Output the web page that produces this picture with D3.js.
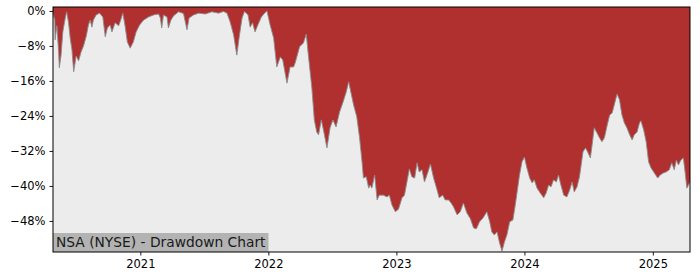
<!DOCTYPE html>
<html>
<head>
<meta charset="utf-8">
<script src="https://cdn.jsdelivr.net/npm/d3@7"></script>
<style>
  body { margin: 0; background: #fff; }
  svg { display: block; font-family: 'DejaVu Sans', sans-serif; }
</style>
</head>
<body>
<svg width="700" height="280"></svg>
<script>
const title = 'NSA (NYSE) - Drawdown Chart'

const dates = [
  '2020-04-27', '2020-05-02', '2020-05-03', '2020-05-08', '2020-05-13', '2020-05-15', '2020-05-20', '2020-05-25',
  '2020-06-01', '2020-06-05', '2020-06-10', '2020-06-15', '2020-06-20', '2020-06-25', '2020-07-02', '2020-07-09',
  '2020-07-16', '2020-07-23', '2020-07-31', '2020-08-06', '2020-08-11', '2020-08-16', '2020-08-20', '2020-08-28',
  '2020-09-07', '2020-09-16', '2020-09-23', '2020-09-29', '2020-10-07', '2020-10-12', '2020-10-21', '2020-10-31',
  '2020-11-06', '2020-11-12', '2020-11-18', '2020-11-25', '2020-12-03', '2020-12-12', '2020-12-20', '2020-12-30',
  '2021-01-10', '2021-01-24', '2021-02-08', '2021-02-22', '2021-02-27', '2021-03-03', '2021-03-08', '2021-03-18',
  '2021-03-22', '2021-03-29', '2021-04-06', '2021-04-20', '2021-05-04', '2021-05-14', '2021-05-20', '2021-06-02',
  '2021-06-16', '2021-07-05', '2021-07-24', '2021-08-12', '2021-08-26', '2021-09-05', '2021-09-14', '2021-09-24',
  '2021-10-03', '2021-10-10', '2021-10-18', '2021-10-25', '2021-11-04', '2021-11-10', '2021-11-17', '2021-11-24',
  '2021-12-02', '2021-12-12', '2021-12-21', '2021-12-28', '2022-01-06', '2022-01-16', '2022-01-25', '2022-02-04',
  '2022-02-11', '2022-02-23', '2022-03-04', '2022-03-14', '2022-03-19', '2022-03-31', '2022-04-11', '2022-04-19',
  '2022-04-25', '2022-05-05', '2022-05-12', '2022-05-19', '2022-05-24', '2022-06-01', '2022-06-07', '2022-06-17',
  '2022-06-26', '2022-07-04', '2022-07-13', '2022-07-23', '2022-08-02', '2022-08-11', '2022-08-18', '2022-08-24',
  '2022-09-01', '2022-09-10', '2022-09-18', '2022-09-25', '2022-09-29', '2022-10-07', '2022-10-14', '2022-10-18',
  '2022-10-23', '2022-10-31', '2022-11-07', '2022-11-13', '2022-11-25', '2022-12-05', '2022-12-12', '2022-12-19',
  '2022-12-29', '2023-01-07', '2023-01-17', '2023-01-24', '2023-01-31', '2023-02-07', '2023-02-14', '2023-02-22',
  '2023-03-01', '2023-03-07', '2023-03-15', '2023-03-22', '2023-04-01', '2023-04-08', '2023-04-17', '2023-04-27',
  '2023-05-03', '2023-05-13', '2023-05-20', '2023-05-30', '2023-06-06', '2023-06-13', '2023-06-23', '2023-07-02',
  '2023-07-11', '2023-07-21', '2023-07-31', '2023-08-09', '2023-08-17', '2023-08-26', '2023-09-05', '2023-09-16',
  '2023-09-24', '2023-09-30', '2023-10-07', '2023-10-15', '2023-10-22', '2023-10-29', '2023-11-05', '2023-11-12',
  '2023-11-20', '2023-11-29', '2023-12-06', '2023-12-12', '2023-12-18', '2023-12-25', '2024-01-01', '2024-01-08',
  '2024-01-16', '2024-01-23', '2024-01-29', '2024-02-06', '2024-02-15', '2024-02-25', '2024-03-03', '2024-03-10',
  '2024-03-17', '2024-03-24', '2024-04-01', '2024-04-07', '2024-04-14', '2024-04-22', '2024-05-01', '2024-05-09',
  '2024-05-16', '2024-05-22', '2024-05-30', '2024-06-06', '2024-06-16', '2024-06-23', '2024-06-29', '2024-07-07',
  '2024-07-12', '2024-07-18', '2024-07-26', '2024-08-02', '2024-08-09', '2024-08-16', '2024-08-24', '2024-08-31',
  '2024-09-07', '2024-09-13', '2024-09-21', '2024-09-28', '2024-10-05', '2024-10-12', '2024-10-19', '2024-10-27',
  '2024-11-03', '2024-11-09', '2024-11-17', '2024-11-24', '2024-11-28', '2024-12-06', '2024-12-13', '2024-12-20',
  '2024-12-27', '2025-01-05', '2025-01-15', '2025-01-22', '2025-02-01', '2025-02-08', '2025-02-17', '2025-02-24',
  '2025-03-03', '2025-03-09', '2025-03-15', '2025-03-22', '2025-03-29', '2025-04-03', '2025-04-08', '2025-04-17'
]

// drawdown in percent
const drawdown = [
  -0.5, -2.1, -6.6, -3.4, -9.4, -13.0, -10.1, -4.8,
  -1.6, -0.2, -2.5, -6.2, -8.9, -13.9, -10.3, -11.4,
  -9.4, -8.0, -5.7, -3.2, -2.1, -3.7, -2.1, -0.9,
  -0.5, -1.4, -5.9, -3.9, -3.2, -4.8, -2.7, -3.4,
  -2.1, -0.5, -3.2, -7.1, -8.5, -7.1, -4.8, -3.2,
  -2.1, -1.4, -0.9, -0.7, -1.6, -3.9, -0.9, -1.4,
  -3.9, -2.1, -1.1, -0.2, -0.6, -4.3, -1.6, -0.9,
  -0.5, -0.7, -0.2, -0.5, -0.1, -0.5, -2.5, -5.5,
  -10.1, -5.9, -1.6, -0.1, -0.9, -3.7, -2.7, -4.8,
  -3.2, -1.4, -0.5, 0.0, -3.2, -6.2, -12.8, -10.5,
  -11.2, -16.5, -12.8, -12.8, -11.7, -8.2, -7.3, -5.3,
  -10.1, -17.6, -24.9, -27.7, -28.3, -24.9, -27.2, -31.3,
  -26.7, -24.9, -26.5, -23.1, -20.8, -18.5, -16.2, -18.5,
  -21.5, -24.2, -29.0, -34.5, -38.2, -37.9, -40.5, -39.8,
  -40.5, -37.5, -43.2, -42.1, -42.1, -42.5, -42.1, -44.3,
  -45.9, -45.3, -42.7, -42.1, -39.1, -36.1, -37.9, -38.2,
  -34.7, -36.8, -36.3, -39.1, -36.8, -35.0, -38.2, -40.9,
  -42.7, -42.1, -43.2, -43.2, -43.9, -44.8, -46.6, -45.9,
  -43.9, -46.2, -47.5, -49.6, -49.8, -48.2, -47.3, -45.9,
  -48.2, -50.5, -51.2, -50.5, -53.0, -54.9, -52.8, -51.2,
  -48.2, -47.8, -44.3, -40.9, -37.5, -34.5, -33.4, -35.9,
  -38.2, -39.3, -38.6, -40.5, -41.6, -42.7, -41.6, -39.8,
  -40.2, -38.6, -39.1, -37.5, -39.8, -42.1, -42.5, -40.9,
  -39.1, -41.4, -40.2, -37.9, -32.2, -31.3, -32.2, -33.6,
  -30.6, -26.7, -27.9, -29.0, -29.9, -29.0, -26.1, -23.8,
  -23.3, -21.5, -19.0, -20.3, -23.8, -25.6, -26.7, -28.3,
  -29.5, -28.3, -27.7, -25.6, -25.1, -27.2, -29.9, -34.5,
  -35.9, -37.0, -38.2, -37.5, -37.0, -36.8, -36.3, -34.7,
  -36.3, -34.1, -35.2, -34.1, -33.6, -36.8, -40.5, -39.1
]

const yTicks = [0, -8, -16, -24, -32, -40, -48]
const xTickYears = [2021, 2022, 2023, 2024, 2025]

const width = 700
const height = 280
const margin = { top: 7, right: 10, bottom: 28, left: 53 }

const parse = d3.utcParse('%Y-%m-%d')
const data = dates.map((d, i) => ({ date: parse(d), value: drawdown[i] }))

const svg = d3.select('svg')

const x = d3
  .scaleUtc()
  .domain(d3.extent(data, d => d.date))
  .range([margin.left, width - margin.right])

const y = d3
  .scaleLinear()
  .domain([-55.1, 0.9])
  .range([height - margin.bottom, margin.top])

const plotW = width - margin.left - margin.right
const plotH = height - margin.top - margin.bottom

// red background = area above the drawdown curve
svg
  .append('rect')
  .attr('x', margin.left)
  .attr('y', margin.top)
  .attr('width', plotW)
  .attr('height', plotH)
  .attr('fill', '#b03030')

const area = d3
  .area()
  .x(d => x(d.date))
  .y0(y(y.domain()[0]))
  .y1(d => y(d.value))

svg.append('path').datum(data).attr('d', area).attr('fill', '#ececec')

const line = d3
  .line()
  .x(d => x(d.date))
  .y(d => y(d.value))

svg
  .append('path')
  .datum(data)
  .attr('d', line)
  .attr('fill', 'none')
  .attr('stroke', '#8c8c8c')
  .attr('stroke-width', 0.9)

// title box, bottom-left inside the plot
const titleG = svg.append('g')
const titleText = titleG
  .append('text')
  .attr('x', margin.left + 3)
  .attr('y', height - margin.bottom - 5)
  .attr('font-size', 13.8)
  .attr('fill', '#1a1a1a')
  .text(title)
const tw = titleText.node().getComputedTextLength()
titleG
  .insert('rect', 'text')
  .attr('x', margin.left)
  .attr('y', height - margin.bottom - 19)
  .attr('width', tw + 6)
  .attr('height', 19)
  .attr('fill', '#b3b3b3')

// frame
svg
  .append('rect')
  .attr('x', margin.left)
  .attr('y', margin.top)
  .attr('width', plotW)
  .attr('height', plotH)
  .attr('fill', 'none')
  .attr('stroke', '#000')
  .attr('stroke-width', 1)

const fmt = v => (v === 0 ? '0%' : '\u2212' + Math.abs(v) + '%')

const yAxis = svg
  .append('g')
  .attr('transform', `translate(${margin.left},0)`)
  .call(
    d3
      .axisLeft(y)
      .tickValues(yTicks)
      .tickFormat(fmt)
      .tickSize(3.5)
      .tickPadding(4)
  )
yAxis.select('.domain').remove()

const xAxis = svg
  .append('g')
  .attr('transform', `translate(0,${height - margin.bottom})`)
  .call(
    d3
      .axisBottom(x)
      .tickValues(xTickYears.map(yr => new Date(Date.UTC(yr, 0, 1))))
      .tickFormat(d3.utcFormat('%Y'))
      .tickSize(3.5)
      .tickPadding(4)
  )
xAxis.select('.domain').remove()

svg
  .selectAll('.tick text')
  .attr('font-family', 'DejaVu Sans, sans-serif')
  .attr('font-size', 11.5)
  .attr('fill', '#000')
svg.selectAll('.tick line').attr('stroke', '#000').attr('stroke-width', 0.9)
</script>
</body>
</html>
